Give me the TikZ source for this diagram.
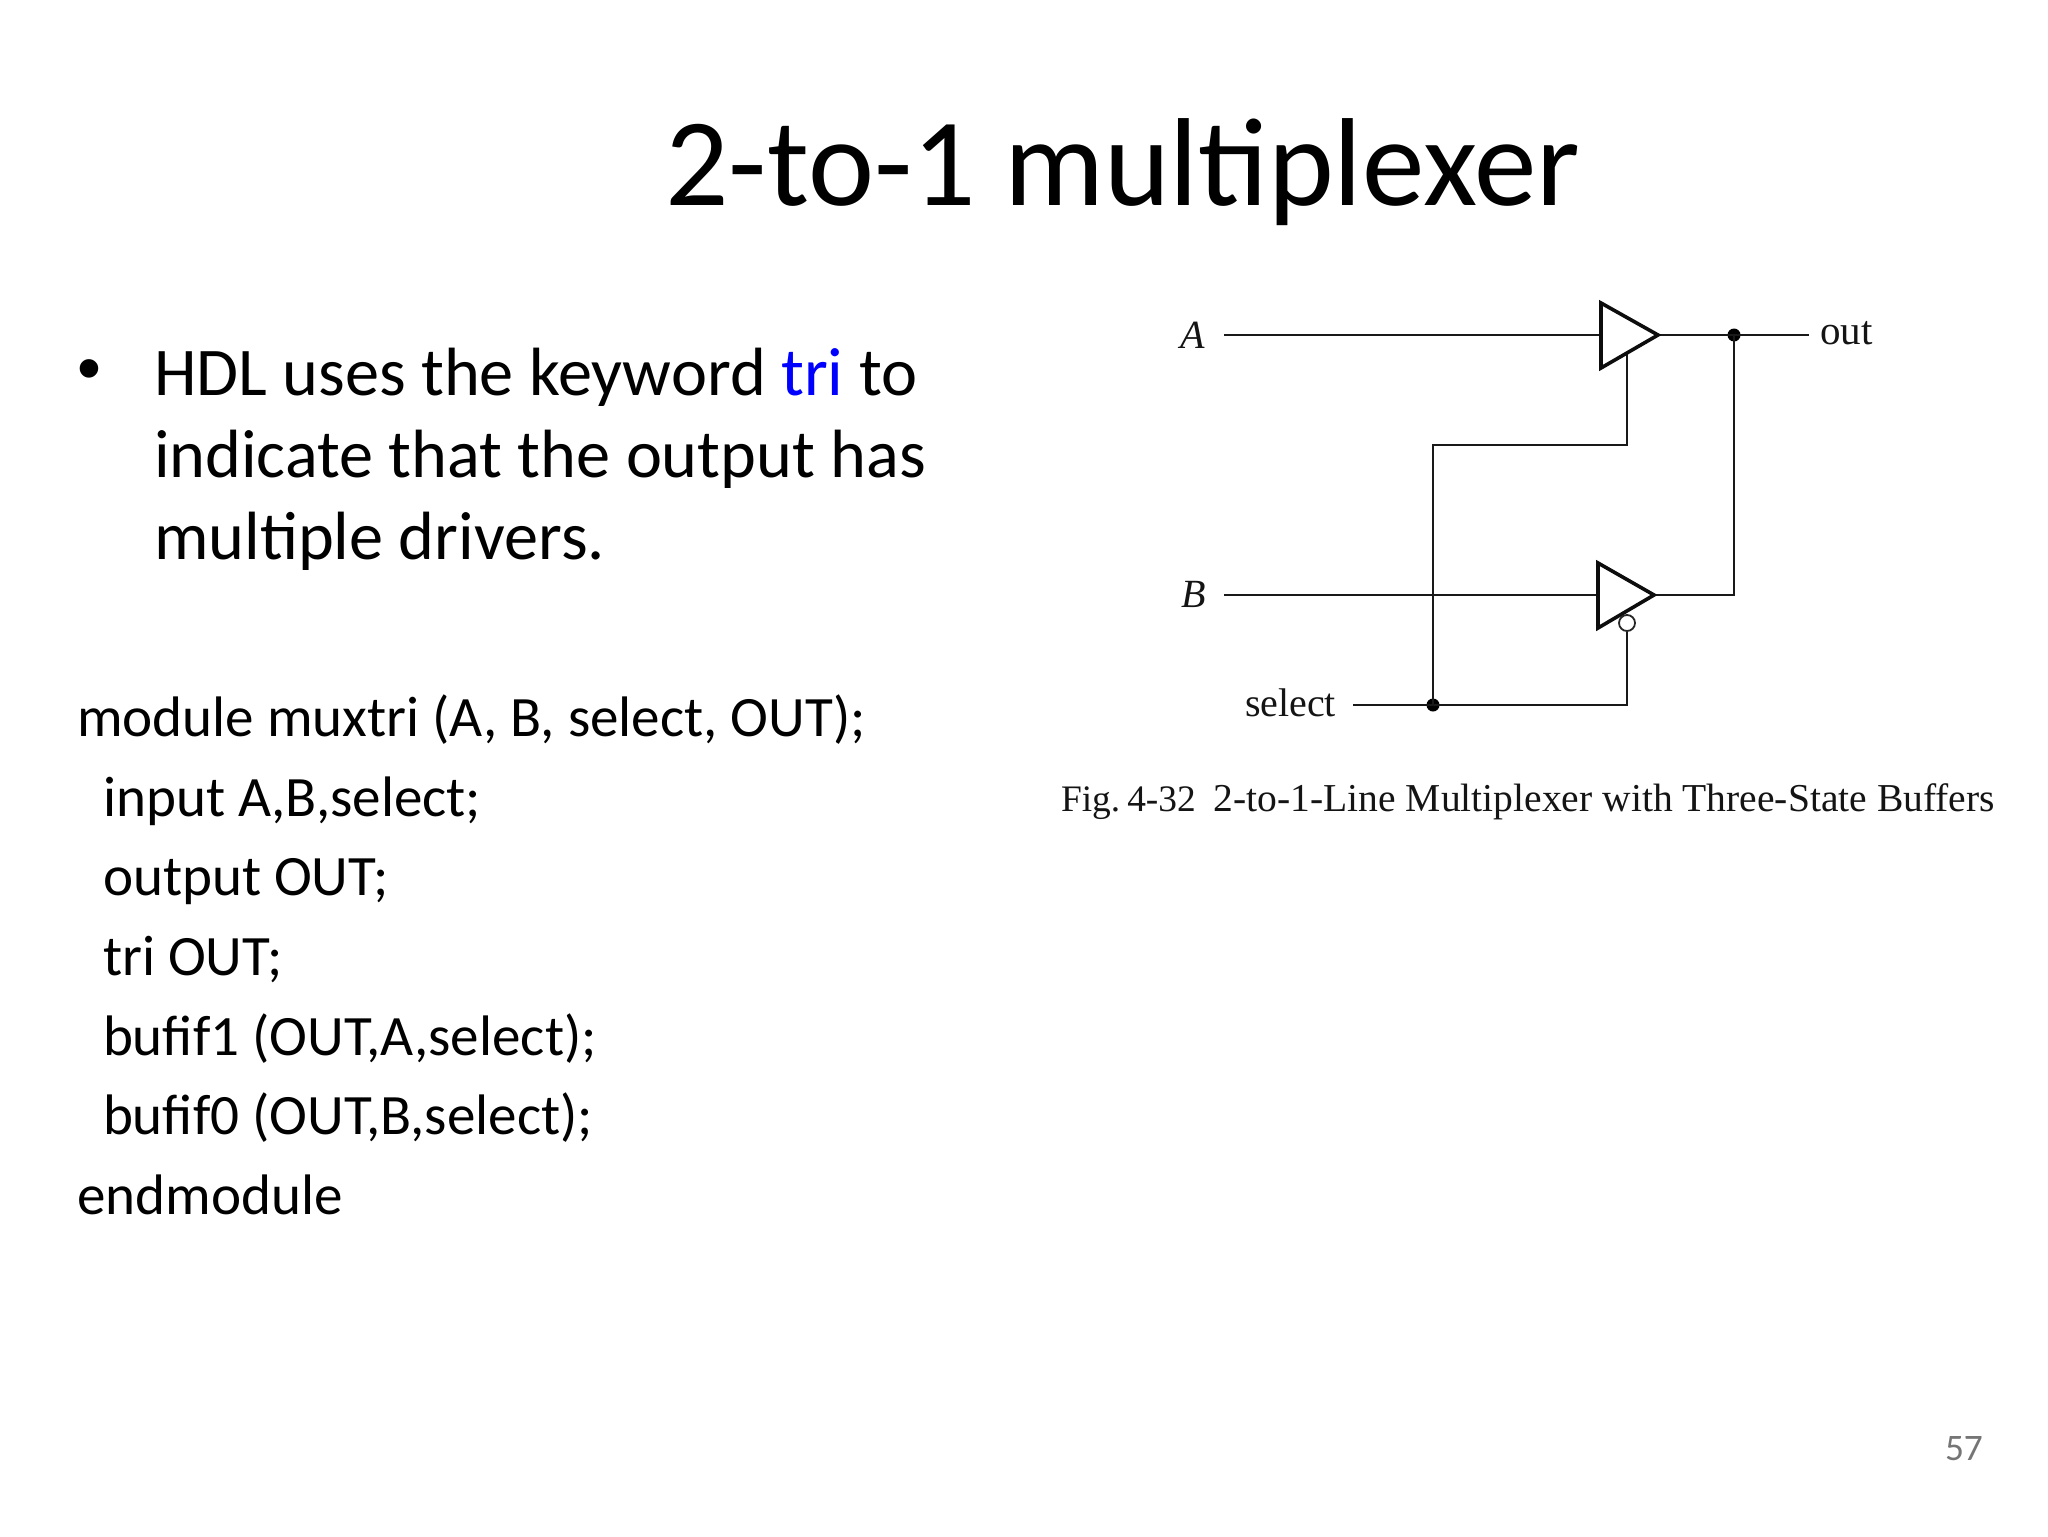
\documentclass[tikz,border=0pt]{standalone}
\usepackage{fontspec}
\setmainfont{Carlito}
\newfontfamily\figfont{Liberation Serif}
\newfontfamily\bulfont{Liberation Sans}
\newcommand{\fs}[1]{\fontsize{#1}{#1}\selectfont}
\tikzset{
  txt/.style={inner sep=0pt,outer sep=0pt,anchor=base west},
  titletxt/.style={txt,font=\fs{62.6}},
  bodytxt/.style={txt,font=\fs{34.13}},
  codetxt/.style={txt,font=\fs{28.55}},
  figtxt/.style={txt,font=\figfont\fs{20},text=black!92},
  wire/.style={line width=1.35pt,black!90,line cap=butt},
  gate/.style={line width=1.8pt,black!95,line join=miter},
  dot/.style={circle,fill=black,inner sep=0pt,minimum size=6.5pt},
  bubble/.style={circle,draw=black!85,line width=0.9pt,fill=white,inner sep=0pt,minimum size=8pt}
}
\begin{document}
\begin{tikzpicture}[x=0.5pt,y=-0.5pt]
\useasboundingbox[fill=white] (0,0) rectangle (2048,1536);
\node[titletxt] (title) at (665.5,205) {2-to-1 multiplexer};
\node[txt,font=\bulfont\fs{34.13}] (bul) at (77,391) {•};
\node[bodytxt] (l1) at (154,395) {HDL uses the keyword \textcolor[HTML]{0000FF}{tri} to};
\node[bodytxt] (l2) at (154,477) {indicate that the output has};
\node[bodytxt] (l3) at (154,559) {multiple drivers.};
\node[codetxt] (c1) at (77,736.5) {module muxtri (A, B, select, OUT);};
\node[codetxt] (c2) at (103,816.5) {input A,B,select;};
\node[codetxt] (c3) at (103,895.5) {output OUT;};
\node[codetxt] (c4) at (103,975.5) {tri OUT;};
\node[codetxt] (c5) at (103,1055.5) {bufif1 (OUT,A,select);};
\node[codetxt] (c6) at (103,1134.5) {bufif0 (OUT,B,select);};
\node[codetxt] (c7) at (77,1214.5) {endmodule};
\node[txt,font=\fs{18.7},text=black!54] (pg) at (1945,1460) {57};
% figure labels
\node[figtxt,font=\figfont\itshape\fs{20}] (la) at (1180,348) {A};
\node[figtxt,font=\figfont\itshape\fs{20}] (lb) at (1181,607) {B};
\node[figtxt] (ls) at (1245,716) {select};
\node[figtxt,font=\figfont\fs{20.5}] (lo) at (1820,344) {out};
\node[figtxt,font=\figfont\fs{18.7}] (cap) at (1061,811) {Fig.\hspace{3.5pt}4-32\hspace{9pt}{\fs{19.77}2-to-1-Line Multiplexer with Three-State Buffers}};
% coordinates
\coordinate (ain) at (1224,335);
\coordinate (at) at (1601,303);
\coordinate (ab) at (1601,368);
\coordinate (ax) at (1658,335);
\coordinate (al) at (1601,335);
\coordinate (aen) at (1627,353);
\coordinate (bin) at (1224,595);
\coordinate (bt) at (1598,563);
\coordinate (bb) at (1598,628);
\coordinate (bx) at (1654,595);
\coordinate (bl) at (1598,595);
\coordinate (oend) at (1809,335);
\coordinate (sin) at (1353,705);
\coordinate (scorner) at (1627,705);
\coordinate (up) at (1433,445);
\coordinate (upr) at (1627,445);
\coordinate (outb) at (1734,595);
\node[dot] (jo) at (1734,335) {};
\node[dot] (js) at (1433,705) {};
\node[bubble] (bub) at (1627,623) {};
% wires
\draw[wire] (ain) -- (al);
\draw[wire] (bin) -- (bl);
\draw[wire] (ax) -- (oend);
\draw[wire] (bx) -- (outb) -- (jo.center);
\draw[wire] (sin) -- (scorner) -- (bub.south);
\draw[wire] (js.center) -- (up) -- (upr) -- (aen);
% gates
\draw[gate] (at) -- (ax) -- (ab) -- cycle;
\draw[gate] (bt) -- (bx) -- (bb) -- cycle;
\end{tikzpicture}
\end{document}
